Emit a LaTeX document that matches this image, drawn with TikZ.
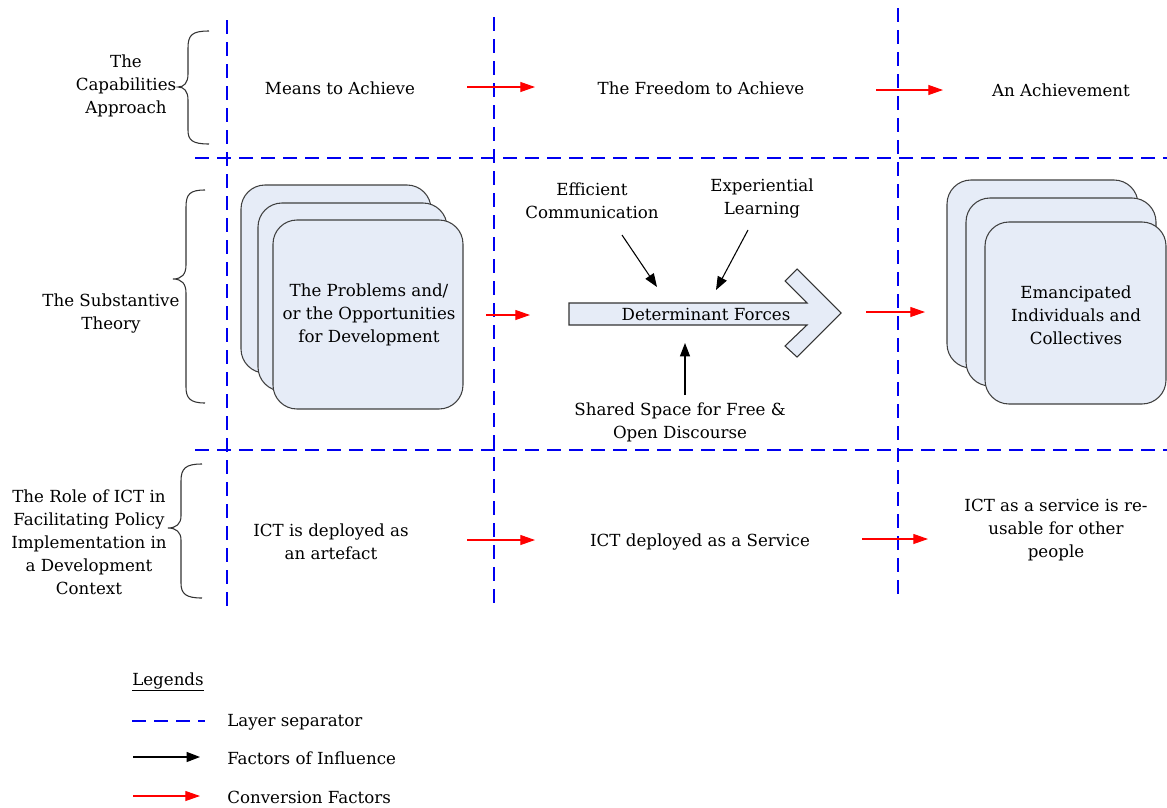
\documentclass[tikz,border=0pt]{standalone}
\usepackage{fontspec}
\setmainfont{DejaVu Serif}
\usetikzlibrary{arrows.meta}
\definecolor{boxfill}{HTML}{E6ECF7}
\definecolor{sepblue}{HTML}{0000F0}
\tikzset{
  txt/.style={font=\fontsize{12.5}{17.25}\selectfont, align=center, inner sep=0pt},
  sep/.style={draw=sepblue, line width=1.5pt, dash pattern=on 10.5pt off 6pt},
  conv/.style={draw=red, line width=0.8pt, -{Triangle[length=11pt,width=7.5pt]}, red},
  infl/.style={draw=black, line width=0.8pt, -{Triangle[length=10pt,width=7.5pt]}},
  card/.style={draw=black!75, line width=0.8pt, fill=boxfill, rounded corners=18pt},
  brc/.style={draw=black!80, line width=0.8pt},
}
\begin{document}
\begin{tikzpicture}[x=0.75pt,y=-0.75pt]
\useasboundingbox (0,0) rectangle (1167,807);
% separators
\draw[sep] (227,20) -- (227,610);
\draw[sep] (494,17) -- (494,610);
\draw[sep] (898,8) -- (898,600);
\draw[sep] (195,158) -- (1167,158);
\draw[sep] (195,450) -- (1167,450);
% braces
\draw[brc] (209,31) .. controls (192,31) and (188,35) .. (188,48) -- (188,74) .. controls (188,83) and (184,87) .. (178,87)
  .. controls (184,87) and (188,91) .. (188,100) -- (188,130) .. controls (188,140) and (192,144) .. (209,144);
\draw[brc] (205,190) .. controls (190,190) and (186,194) .. (186,207) -- (186,265) .. controls (186,274) and (182,279) .. (173,279)
  .. controls (182,279) and (186,284) .. (186,293) -- (186,387) .. controls (186,398) and (190,403) .. (205,403);
\draw[brc] (202,464) .. controls (186,464) and (181,468) .. (181,481) -- (181,516) .. controls (181,524) and (176,528) .. (168,528)
  .. controls (176,528) and (181,532) .. (181,540) -- (181,583) .. controls (181,594) and (186,598) .. (202,598);
% left labels
\node[txt] (capL) at (126,86) {The\\Capabilities\\Approach};
\node[txt] (subL) at (111,314) {The Substantive\\Theory};
\node[txt] (roleL) at (89,542) {The Role of ICT in\\Facilitating Policy\\Implementation in\\a Development\\Context};
% top row
\node[txt] (means) at (340,88) {Means to Achieve};
\node[txt] (freedom) at (701,88) {The Freedom to Achieve};
\node[txt] (achieve) at (1061,90) {An Achievement};
\coordinate (c1a) at (467,87); \coordinate (c1b) at (535,87);
\coordinate (c2a) at (876,90); \coordinate (c2b) at (943,90);
\draw[conv] (c1a) -- (c1b);
\draw[conv] (c2a) -- (c2b);
% middle row: left cards
\draw[card] (241,185) rectangle (431,373);
\draw[card] (258,203) rectangle (447,391);
\draw[card] (273,220) rectangle (463,409);
\node[txt] (prob) at (369,315) {The Problems and/\\or the Opportunities\\for Development};
% big arrow
\draw[draw=black!80, line width=0.8pt, fill=boxfill]
  (569,303) -- (807,303) -- (785,281) -- (797,269) -- (841,313) -- (797,357) -- (785,346) -- (807,325) -- (569,325) -- cycle;
\node[txt] (det) at (706,314) {Determinant Forces};
\node[txt] (eff) at (592,201) {Efficient\\Communication};
\node[txt] (exp) at (762,199) {Experiential\\Learning};
\node[txt] (shared) at (680,422) {Shared Space for Free \&\\Open Discourse};
\coordinate (e1) at (622,235); \coordinate (e2) at (657,287);
\coordinate (x1) at (748,230); \coordinate (x2) at (716,290);
\coordinate (s1) at (685,395); \coordinate (s2) at (685,343);
\draw[infl] (e1) -- (e2);
\draw[infl] (x1) -- (x2);
\draw[infl] (s1) -- (s2);
\coordinate (c3a) at (486,315); \coordinate (c3b) at (530,315);
\coordinate (c4a) at (866,312); \coordinate (c4b) at (925,312);
\draw[conv] (c3a) -- (c3b);
\draw[conv] (c4a) -- (c4b);
% right cards
\draw[card] (947,180) rectangle (1138,368);
\draw[card] (966,198) rectangle (1156,386);
\draw[card] (985,222) rectangle (1166,404);
\node[txt] (emanc) at (1076,315) {Emancipated\\Individuals and\\Collectives};
% bottom row
\node[txt] (artef) at (331,542) {ICT is deployed as\\an artefact};
\node[txt] (service) at (700,542) {ICT deployed as a Service};
\node[txt] (reuse) at (1056,530) {ICT as a service is re-\\usable for other\\people};
\coordinate (c5a) at (467,540); \coordinate (c5b) at (535,540);
\coordinate (c6a) at (862,539); \coordinate (c6b) at (928,539);
\draw[conv] (c5a) -- (c5b);
\draw[conv] (c6a) -- (c6b);
% legend
\node[txt] (leg) at (168,682) {\underline{Legends}};
\coordinate (l1a) at (132,721); \coordinate (l1b) at (205,721);
\draw[sep] (l1a) -- (l1b);
\node[txt, anchor=west] (lt1) at (227,722) {Layer separator};
\coordinate (l2a) at (133,757); \coordinate (l2b) at (200,757);
\draw[infl] (l2a) -- (l2b);
\node[txt, anchor=west] (lt2) at (227,758) {Factors of Influence};
\coordinate (l3a) at (133,796); \coordinate (l3b) at (200,796);
\draw[conv] (l3a) -- (l3b);
\node[txt, anchor=west] (lt3) at (227,797) {Conversion Factors};
\end{tikzpicture}
\end{document}
